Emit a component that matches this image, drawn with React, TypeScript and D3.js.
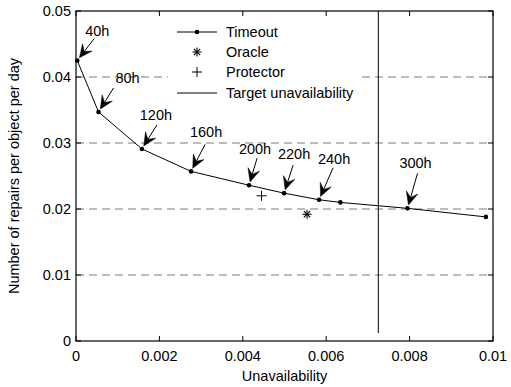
import React from "react";
import * as d3 from "d3";

// Timeout series (points labelled by timeout value)
const unavail = [0.00003, 0.00054, 0.00158, 0.00276, 0.00415, 0.00499, 0.00583, 0.00634, 0.00795, 0.00983];
const repairs = [0.0425, 0.0347, 0.0291, 0.0257, 0.0236, 0.0224, 0.0214, 0.021, 0.0201, 0.0188];
const timeoutLabels = ["40h", "80h", "120h", "160h", "200h", "220h", "240h", "", "300h", ""];

// arrow tail and label centre, in px relative to the point
const arrowTail = [[17, -22], [15, -24], [15, -24], [14, -27], [8, -27], [9, -28], [14, -32], null, [10, -35], null];
const labelPos = [[20, -30], [29, -34], [14, -34], [15, -39], [6, -36], [10, -39], [15, -41], null, [8, -45], null];

const oracle = { u: 0.00554, r: 0.0192 };
const protector = { u: 0.00445, r: 0.022 };
const targetUnavail = 0.00725;

const xTicks = [0, 0.002, 0.004, 0.006, 0.008, 0.01];
const yTicks = [0, 0.01, 0.02, 0.03, 0.04, 0.05];
const gridTicks = [0.01, 0.02, 0.03, 0.04];

const W = 511;
const H = 387;
const font = "'Liberation Sans', Arial, Helvetica, sans-serif";
const fs = 14.5;

const x = d3.scaleLinear().domain([0, 0.01]).range([76, 493]);
const y = d3.scaleLinear().domain([0, 0.05]).range([341, 11]);

const Asterisk = ({ cx, cy, s }: { cx: number; cy: number; s: number }) => (
  <g stroke="#000" strokeWidth={1.1}>
    <line x1={cx - s} x2={cx + s} y1={cy} y2={cy} />
    <line x1={cx} x2={cx} y1={cy - s} y2={cy + s} />
    <line x1={cx - s * 0.7} x2={cx + s * 0.7} y1={cy - s * 0.7} y2={cy + s * 0.7} />
    <line x1={cx - s * 0.7} x2={cx + s * 0.7} y1={cy + s * 0.7} y2={cy - s * 0.7} />
  </g>
);

const Plus = ({ cx, cy, s }: { cx: number; cy: number; s: number }) => (
  <g stroke="#000" strokeWidth={1}>
    <line x1={cx - s} x2={cx + s} y1={cy} y2={cy} />
    <line x1={cx} x2={cx} y1={cy - s} y2={cy + s} />
  </g>
);

const Arrow = ({ px, py, tx, ty }: { px: number; py: number; tx: number; ty: number }) => {
  const dx = tx - px;
  const dy = ty - py;
  const len = Math.hypot(dx, dy);
  const ux = dx / len;
  const uy = dy / len;
  // tip sits just off the point
  const tipX = px + ux * 3.5;
  const tipY = py + uy * 3.5;
  const hl = 13;
  const hw = 6;
  const bx = tipX + ux * hl;
  const by = tipY + uy * hl;
  const nx = -uy;
  const ny = ux;
  const notchX = tipX + ux * hl * 0.6;
  const notchY = tipY + uy * hl * 0.6;
  const head = `M${tipX},${tipY}L${bx + nx * hw},${by + ny * hw}L${notchX},${notchY}L${bx - nx * hw},${by - ny * hw}Z`;
  return (
    <g>
      <line x1={tx} y1={ty} x2={notchX} y2={notchY} stroke="#000" strokeWidth={1} />
      <path d={head} fill="#000" stroke="#000" strokeWidth={0.5} />
    </g>
  );
};

export default function App() {
  const line = d3
    .line<number>()
    .x((d) => x(d))
    .y((_, i) => y(repairs[i]));

  const [x0, x1] = x.range();
  const [y0, y1] = y.range();
  const legendX = 177;
  const legendRows = [32, 52, 72, 93];

  return (
    <svg
      width={W}
      height={H}
      style={{ position: "absolute", left: 0, top: 0, background: "#fff" }}
      fontFamily={font}
      fontSize={fs}
    >
      {/* grid */}
      {gridTicks.map((t) => (
        <line key={t} x1={x0} x2={x1} y1={y(t)} y2={y(t)} stroke="#7a7a7a" strokeDasharray="8,5" />
      ))}

      {/* target unavailability */}
      <line x1={x(targetUnavail)} x2={x(targetUnavail)} y1={y(0.0012)} y2={y(0.05)} stroke="#000" />

      {/* legend background */}
      <rect x={168} y={20} width={193} height={83} fill="#fff" />
      <g>
        <line x1={legendX} x2={legendX + 40} y1={legendRows[0]} y2={legendRows[0]} stroke="#000" />
        <circle cx={legendX + 20} cy={legendRows[0]} r={2.3} fill="#000" />
        <Asterisk cx={legendX + 20} cy={legendRows[1]} s={4.5} />
        <Plus cx={legendX + 20} cy={legendRows[2]} s={5} />
        <line x1={legendX} x2={legendX + 40} y1={legendRows[3]} y2={legendRows[3]} stroke="#000" />
        {["Timeout", "Oracle", "Protector", "Target unavailability"].map((t, i) => (
          <text key={t} x={226} y={legendRows[i] + 5}>
            {t}
          </text>
        ))}
      </g>

      {/* timeout curve */}
      <path d={line(unavail) ?? ""} fill="none" stroke="#000" strokeWidth={1} />
      {unavail.map((u, i) => (
        <circle key={i} cx={x(u)} cy={y(repairs[i])} r={2.3} fill="#000" />
      ))}

      <Asterisk cx={x(oracle.u)} cy={y(oracle.r)} s={4.5} />
      <Plus cx={x(protector.u)} cy={y(protector.r)} s={5} />

      {/* annotations */}
      {unavail.map((u, i) => {
        const tail = arrowTail[i];
        const lp = labelPos[i];
        if (!tail || !lp) return null;
        const px = x(u);
        const py = y(repairs[i]);
        return (
          <g key={"a" + i}>
            <Arrow px={px} py={py} tx={px + tail[0]} ty={py + tail[1]} />
            <text x={px + lp[0]} y={py + lp[1] + 5} textAnchor="middle">
              {timeoutLabels[i]}
            </text>
          </g>
        );
      })}

      {/* axes box */}
      <rect x={x0} y={y1} width={x1 - x0} height={y0 - y1} fill="none" stroke="#000" strokeWidth={1.2} />
      {xTicks.map((t) => (
        <g key={"x" + t}>
          <line x1={x(t)} x2={x(t)} y1={y0} y2={y0 - 5} stroke="#000" />
          <line x1={x(t)} x2={x(t)} y1={y1} y2={y1 + 5} stroke="#000" />
          <text x={x(t)} y={361} textAnchor="middle">
            {t === 0 ? "0" : d3.format(".3~f")(t)}
          </text>
        </g>
      ))}
      {yTicks.map((t) => (
        <g key={"y" + t}>
          <line x1={x0} x2={x0 + 5} y1={y(t)} y2={y(t)} stroke="#000" />
          <line x1={x1} x2={x1 - 5} y1={y(t)} y2={y(t)} stroke="#000" />
          <text x={71} y={y(t) + 5} textAnchor="end">
            {t === 0 ? "0" : d3.format(".2f")(t)}
          </text>
        </g>
      ))}

      <text x={(x0 + x1) / 2} y={381} textAnchor="middle">
        Unavailability
      </text>
      <text transform={`translate(19,${(y0 + y1) / 2}) rotate(-90)`} textAnchor="middle">
        Number of repairs per object per day
      </text>
    </svg>
  );
}
